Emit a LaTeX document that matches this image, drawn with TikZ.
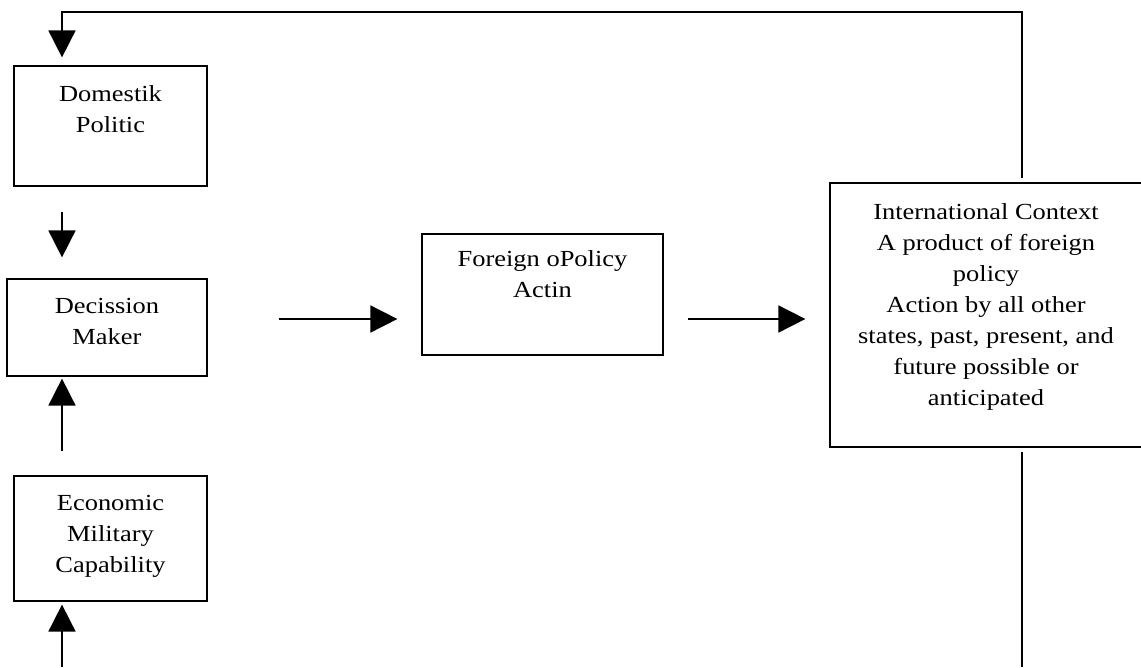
\documentclass[tikz,border=0pt]{standalone}
\usepackage{fontspec}
\setmainfont{Liberation Serif}[FakeStretch=1.15]
\usetikzlibrary{arrows.meta}

\begin{document}
\begin{tikzpicture}[x=1pt,y=-1pt,
    box/.style={rectangle,draw,line width=1.2pt,inner sep=0pt},
    txt/.style={anchor=north,inner sep=0pt,align=center,yshift=-20pt,font=\fontsize{23}{31}\selectfont},
    arr/.style={-{Triangle[length=27pt,width=27pt]},line width=1.7pt}]
    \useasboundingbox (0,0) rectangle (1141,667);
    % guide lines
    \coordinate (col) at (62,0);
    \coordinate (rcol) at (1022,0);
    \coordinate (top) at (0,12);
    \coordinate (bot) at (0,667);
    \coordinate (row) at (0,319);

    % Domestik Politic
    \node[box,minimum width=193pt,minimum height=120pt,label={[txt]north:Domestik\\Politic}] (dom) at (110.5,126) {};
    % Decission Maker
    \node[box,minimum width=200pt,minimum height=97pt,label={[txt]north:Decission\\Maker}] (dec) at (107,327.5) {};
    % Economic Military Capability
    \node[box,minimum width=193pt,minimum height=125pt,label={[txt]north:Economic\\Military\\Capability}] (eco) at (110.5,538.5) {};
    % Foreign Policy Action
    \node[box,minimum width=241pt,minimum height=121pt,label={[txt,yshift=3pt]north:Foreign oPolicy\\Actin}] (fpa) at (542.5,294.5) {};
    % International Context
    \node[box,minimum width=312pt,minimum height=264pt,label={[txt,yshift=-1pt]north:International Context\\A product of foreign\\policy\\Action by all other\\states, past, present, and\\future possible or\\anticipated}] (intl) at (986,315) {};

    % arrows on the left
    \draw[arr,shorten <=25pt,shorten >=21pt] (dom.south -| col) -- (dec.north -| col);
    \draw[arr,shorten <=24pt,shorten >=2pt] (eco.north -| col) -- (dec.south -| col);
    \draw[arr,shorten >=3pt] (col |- bot) -- (eco.south -| col);

    % arrows in the middle
    \draw[arr,shorten <=71pt,shorten >=24pt] (dec.east |- row) -- (fpa.west |- row);
    \draw[arr,shorten <=24pt,shorten >=24pt] (fpa.east |- row) -- (intl.west |- row);

    % feedback loop
    \draw[arr,shorten <=4pt,shorten >=8pt] (intl.north -| rcol) -- (rcol |- top) -- (col |- top) -- (dom.north -| col);
    \draw[line width=1.7pt,shorten <=4pt] (intl.south -| rcol) -- (rcol |- bot);
\end{tikzpicture}
\end{document}
